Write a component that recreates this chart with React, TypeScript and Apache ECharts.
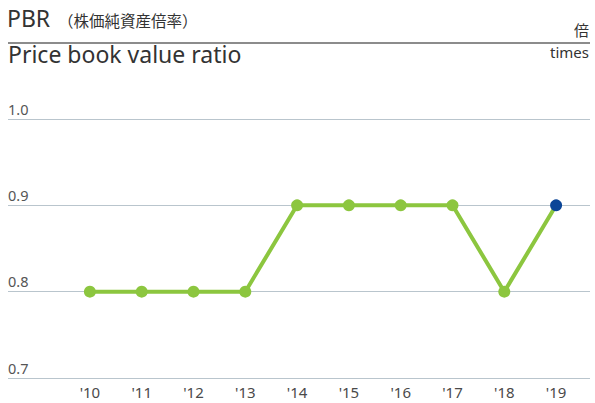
import React, { useEffect, useRef } from "react";
import * as echarts from "echarts";

const years = ["'10", "'11", "'12", "'13", "'14", "'15", "'16", "'17", "'18", "'19"];
const pbr = [0.8, 0.8, 0.8, 0.8, 0.9, 0.9, 0.9, 0.9, 0.8, 0.9];
const yMin = 0.7;
const yMax = 1.0;
const yStep = 0.1;

const FONT = "'Noto Sans', 'Noto Sans CJK JP', sans-serif";
const CJK = "'Noto Sans CJK JP', sans-serif";
const GREEN = "#8cc63f";
const BLUE = "#0b4597";

export default function App() {
  const ref = useRef<HTMLDivElement>(null);
  useEffect(() => {
    if (!ref.current) return;
    const chart = echarts.init(ref.current, null, { renderer: "svg" });
    const data = pbr.map((v, i) =>
      i === pbr.length - 1
        ? { value: v, itemStyle: { color: BLUE } }
        : { value: v }
    );
    chart.setOption({
      animation: false,
      textStyle: { fontFamily: FONT },
      grid: [
        { left: 8, right: 5, top: 119, bottom: 25 },
        { left: 64, right: 13, top: 119, bottom: 25 },
      ],
      xAxis: [
        { gridIndex: 0, type: "category", data: years, show: false },
        {
          gridIndex: 1,
          type: "category",
          data: years,
          axisLine: { show: false },
          axisTick: { show: false },
          axisLabel: { color: "#4a4a4a", fontSize: 15, lineHeight: 15, margin: 6, fontFamily: FONT },
        },
      ],
      yAxis: [
        {
          gridIndex: 0,
          type: "value",
          min: yMin,
          max: yMax,
          interval: yStep,
          axisLine: { show: false },
          axisTick: { show: false },
          splitLine: { lineStyle: { color: "#b9c5cd", width: 1 } },
          axisLabel: {
            inside: true,
            margin: 0,
            verticalAlign: "bottom",
            padding: [0, 0, 3, 0],
            color: "#555",
            fontSize: 14.5,
            fontFamily: FONT,
            formatter: (v: number) => v.toFixed(1),
          },
        },
        {
          gridIndex: 1,
          type: "value",
          min: yMin,
          max: yMax,
          interval: yStep,
          show: false,
        },
      ],
      series: [
        {
          type: "line",
          xAxisIndex: 1,
          yAxisIndex: 1,
          data,
          symbol: "circle",
          symbolSize: 12,
          lineStyle: { color: GREEN, width: 4 },
          itemStyle: { color: GREEN },
        },
      ],
      graphic: [
        {
          type: "text",
          left: 7,
          top: 6,
          style: { text: "PBR", fontSize: 23, fill: "#333", fontFamily: FONT },
        },
        {
          type: "text",
          left: 58,
          top: 12,
          style: { text: "（株価純資産倍率）", fontSize: 15.5, fill: "#333", fontFamily: CJK },
        },
        {
          type: "line",
          shape: { x1: 8, y1: 43, x2: 590, y2: 43 },
          style: { stroke: "#666", lineWidth: 1.5 },
        },
        {
          type: "text",
          left: 8,
          top: 42,
          style: { text: "Price book value ratio", fontSize: 23, fill: "#333", fontFamily: FONT },
        },
        {
          type: "text",
          right: 6,
          top: 22,
          style: { text: "倍", fontSize: 15, fill: "#333", fontFamily: CJK },
        },
        {
          type: "text",
          right: 6,
          top: 44,
          style: { text: "times", fontSize: 15, fill: "#333", fontFamily: FONT },
        },
      ],
    });
    return () => chart.dispose();
  }, []);
  return (
    <div
      ref={ref}
      style={{ position: "fixed", left: 0, top: 0, width: 595, height: 403, background: "#fff" }}
    />
  );
}
